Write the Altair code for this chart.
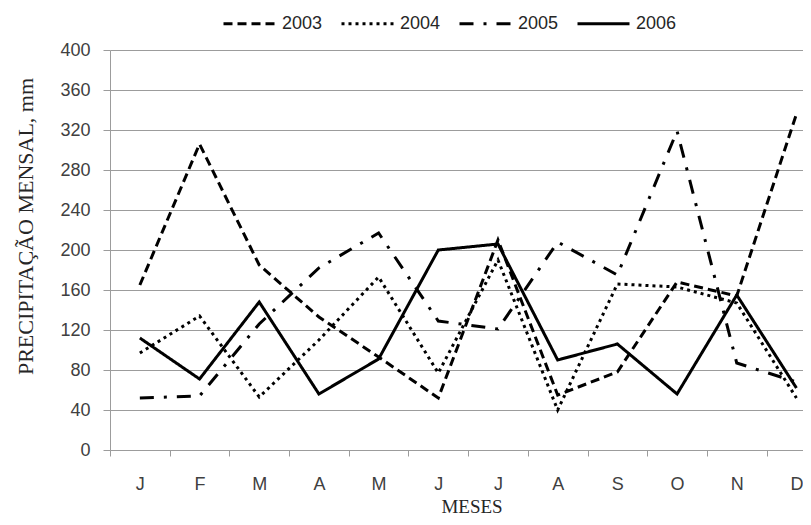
import altair as alt
import pandas as pd

months = ["J", "F", "M", "A", "M", "J", "J", "A", "S", "O", "N", "D"]
years = ["2003", "2004", "2005", "2006"]
p2003 = [165, 306, 185, 133, 93, 52, 210, 55, 78, 168, 154, 336]
p2004 = [97, 134, 53, 110, 173, 77, 190, 40, 166, 163, 147, 52]
p2005 = [52, 54, 126, 182, 217, 129, 121, 208, 175, 319, 87, 68]
p2006 = [112, 71, 148, 56, 91, 200, 206, 90, 106, 56, 155, 62]
y_ticks = list(range(0, 401, 40))
dashes = [[9, 5], [3, 4], [14, 10, 3, 10], [1, 0]]

rows = []
for yr, vals in zip(years, [p2003, p2004, p2005, p2006]):
    for i, v in enumerate(vals):
        rows.append({"mes": i + 1, "ano": yr, "valor": v})
df = pd.DataFrame(rows)

x_vals = [i / 2 for i in range(1, 25)]
label_expr = "datum.value % 1 == 0 ? " + str(months) + "[datum.value - 1] : ''"

GRID = "#9c9c9c"
SANS = "Liberation Sans"
SERIF = "Liberation Serif"

chart = (
    alt.Chart(df)
    .mark_line(color="black", strokeWidth=3)
    .encode(
        x=alt.X(
            "mes:Q",
            scale=alt.Scale(domain=[0.5, 12.11], nice=False, zero=False),
            axis=alt.Axis(
                values=x_vals,
                labelExpr=label_expr,
                labelOverlap=False,
                labelFlush=False,
                grid=False,
                domainColor=GRID,
                tickColor=GRID,
                tickSize=6,
                tickOpacity={"condition": {"test": "datum.value % 1 == 0", "value": 0}, "value": 1},
                labelPadding=19,
                labelFont=SANS,
                labelFontSize=18,
                labelColor="#404040",
                title="MESES",
                titleFont=SERIF,
                titleFontSize=19,
                titleFontWeight="normal",
                titleColor="#262626",
                titleX=361.5,
                titleY=56,
                titleAlign="center",
                titleBaseline="middle",
            ),
        ),
        y=alt.Y(
            "valor:Q",
            scale=alt.Scale(domain=[0, 400], nice=False),
            axis=alt.Axis(
                values=y_ticks,
                grid=True,
                gridColor=GRID,
                gridWidth=1,
                domainColor=GRID,
                tickColor=GRID,
                tickSize=7,
                labelPadding=13,
                labelFont=SANS,
                labelFontSize=18,
                labelColor="#404040",
                title="PRECIPITAÇÃO MENSAL, mm",
                titleFont=SERIF,
                titleFontSize=22,
                titleFontWeight="normal",
                titleColor="#262626",
                titleAngle=270,
                titleX=-85,
                titleY=176,
                titleAlign="center",
                titleBaseline="middle",
            ),
        ),
        strokeDash=alt.StrokeDash(
            "ano:N",
            scale=alt.Scale(domain=years, range=dashes),
            legend=alt.Legend(
                orient="none",
                legendX=112,
                legendY=-54,
                direction="horizontal",
                title=None,
                symbolType="stroke",
                symbolSize=2704,
                symbolStrokeWidth=3,
                symbolStrokeColor="black",
                labelFont=SANS,
                labelFontSize=18,
                labelColor="#262626",
                labelOffset=5,
                columnPadding=12,
                padding=0,
            ),
        ),
    )
    .properties(
        width=693,
        height=400,
        autosize=alt.AutoSizeParams(type="none"),
        padding={"left": 102, "top": 42, "right": 0, "bottom": 67},
        background="white",
    )
    .configure_view(stroke=None)
)

chart.save("out.html", embed_options={"renderer": "svg", "actions": False})
